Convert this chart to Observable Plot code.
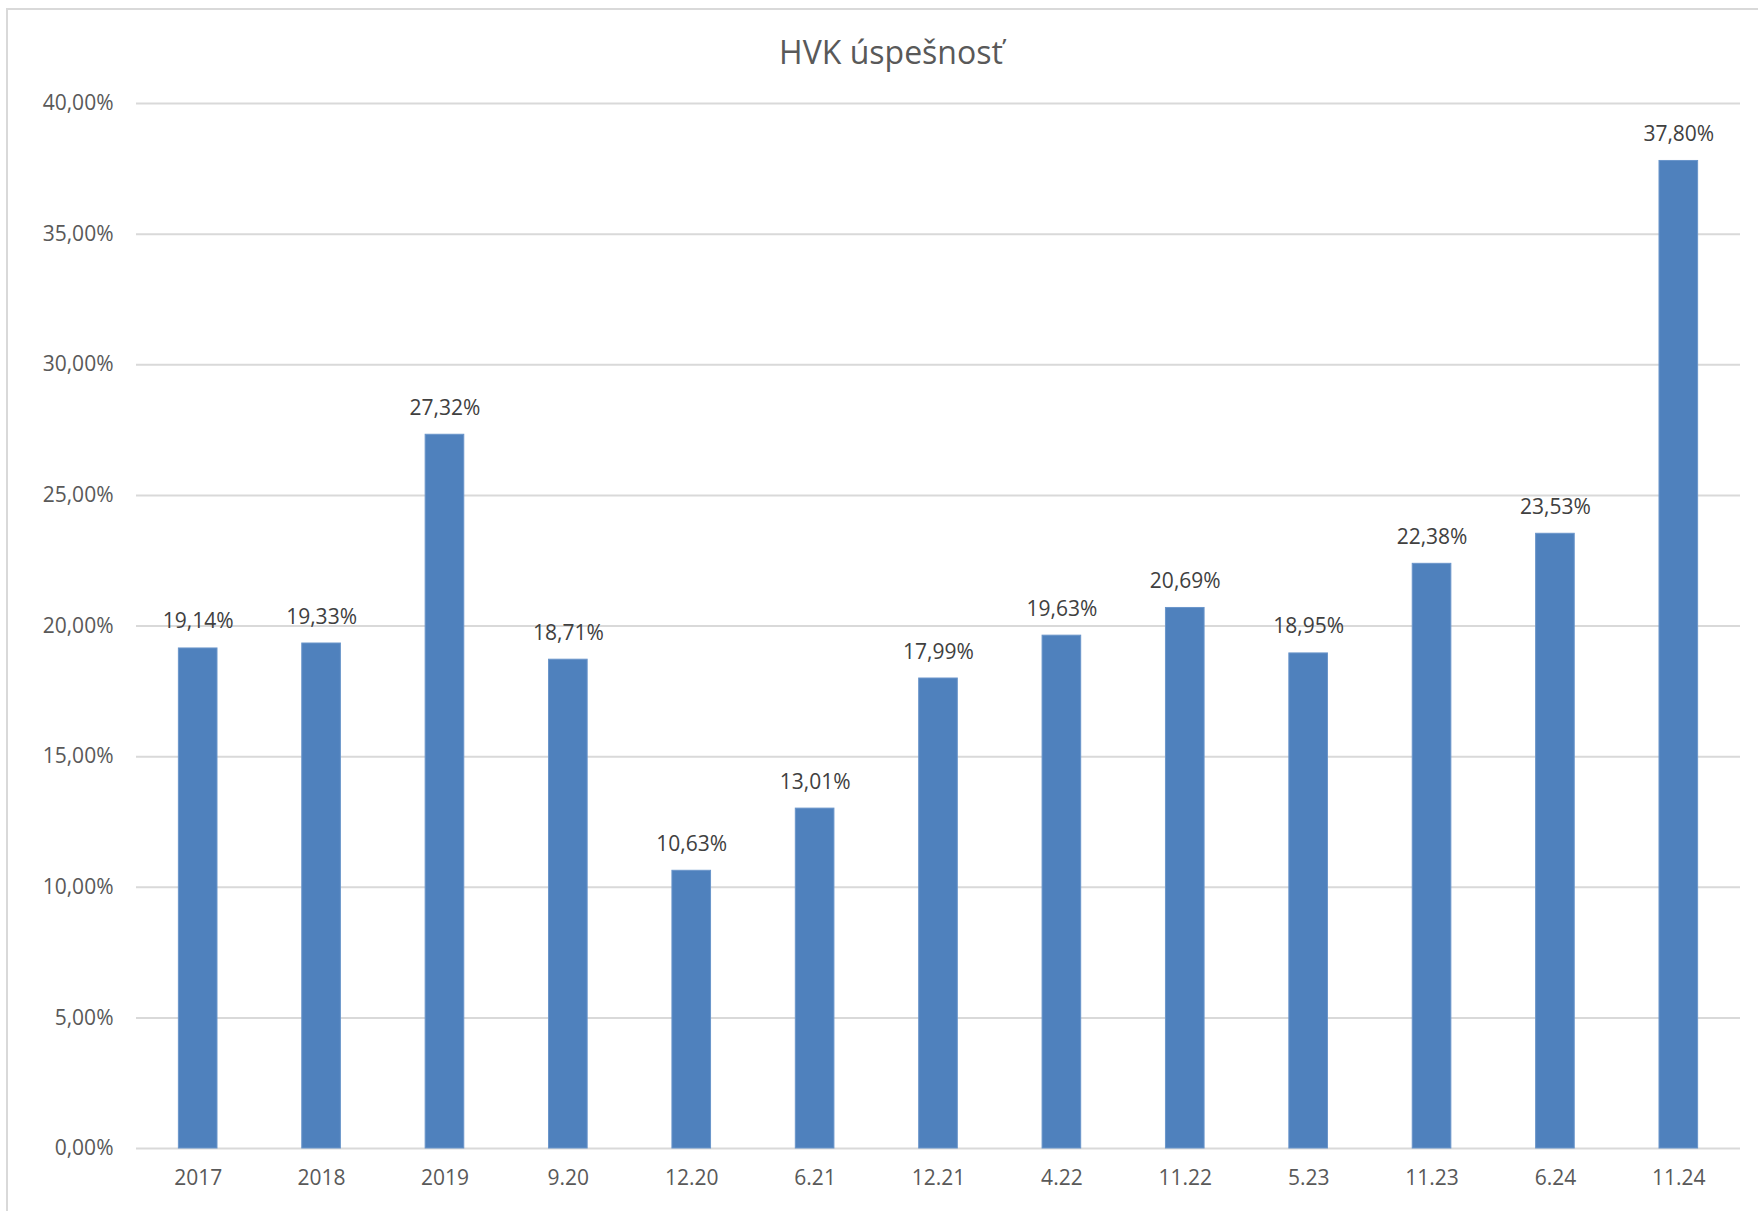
<!DOCTYPE html>
<html>
<head>
<meta charset="utf-8">
<script src="https://cdn.jsdelivr.net/npm/d3@7"></script>
<script src="https://cdn.jsdelivr.net/npm/@observablehq/plot@0.6"></script>
<style>
  html, body { margin: 0; padding: 0; background: #fff; }
  #wrap { position: relative; width: 1758px; height: 1211px; overflow: hidden; font-family: "Open Sans", sans-serif; }
  #frame { position: absolute; left: 6px; top: 8px; width: 1800px; height: 1300px; border: 2px solid #D9D9D9; box-sizing: border-box; }
  #title { position: absolute; left: 0; width: 1782px; top: 32px; text-align: center; font-size: 32px; color: #595959; line-height: 40px; }
  #chart { position: absolute; left: 0; top: 0; }
</style>
</head>
<body>
<div id="wrap">
  <div id="frame"></div>
  <div id="chart"></div>
  <div id="title">HVK úspešnosť</div>
</div>
<script>
const categories = ["2017", "2018", "2019", "9.20", "12.20", "6.21", "12.21", "4.22", "11.22", "5.23", "11.23", "6.24", "11.24"];
const values = [19.14, 19.33, 27.32, 18.71, 10.63, 13.01, 17.99, 19.63, 20.69, 18.95, 22.38, 23.53, 37.80];
const yTicks = [0, 5, 10, 15, 20, 25, 30, 35, 40];

const data = categories.map((c, i) => ({cat: c, v: values[i]}));
const fmt = v => v.toFixed(2).replace(".", ",") + "%";

const chart = Plot.plot({
  width: 1758,
  height: 1211,
  marginLeft: 136,
  marginRight: 18,
  marginTop: 103,
  marginBottom: 63,
  style: { fontFamily: "'Open Sans', sans-serif", fontSize: "21px", color: "#595959", background: "transparent" },
  x: { domain: categories, paddingInner: 0.687, paddingOuter: 0.3435, round: false, label: null },
  y: { domain: [0, 40], label: null },
  marks: [
    Plot.ruleY(yTicks, { stroke: "#D9D9D9", strokeWidth: 2 }),
    Plot.barY(data, { x: "cat", y: "v", fill: "#4F81BD", stroke: "#6A95CA", strokeWidth: 1 }),
    Plot.text(data, { x: "cat", y: "v", text: d => fmt(d.v), lineAnchor: "bottom", dy: -20, fill: "#404040", fontSize: 21 }),
    Plot.axisY({ ticks: yTicks, tickSize: 0, tickPadding: 23, tickFormat: fmt, fill: "#595959", fontSize: 21 }),
    Plot.axisX({ tickSize: 0, tickPadding: 22, fill: "#595959", fontSize: 21 })
  ]
});
document.getElementById("chart").appendChild(chart);
</script>
</body>
</html>
